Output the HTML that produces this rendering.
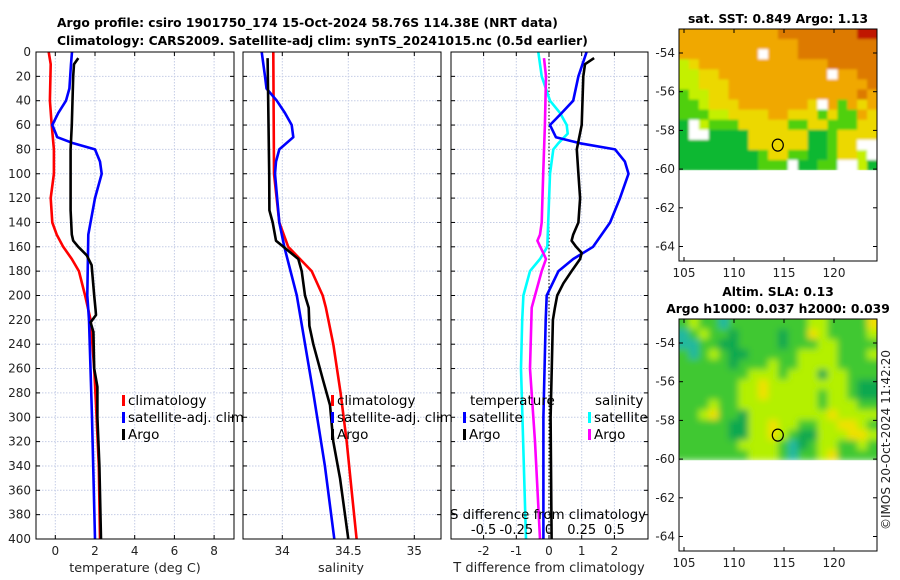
<!DOCTYPE html>
<html><head><meta charset="utf-8"><style>
html,body{margin:0;padding:0;background:#fff;}
svg{display:block;font-family:"DejaVu Sans","Liberation Sans",sans-serif;}
</style></head><body>
<svg id="fig" width="900" height="580" viewBox="0 0 900 580" xmlns="http://www.w3.org/2000/svg">
<defs>
<filter id="blur" x="-5%" y="-5%" width="110%" height="110%"><feGaussianBlur stdDeviation="3.5"/></filter>
<filter id="blur2" x="-5%" y="-5%" width="110%" height="110%"><feGaussianBlur stdDeviation="1.2"/></filter>
<clipPath id="clipSla"><rect x="679" y="319" width="198" height="141.3"/></clipPath>
<clipPath id="clipSst"><rect x="679" y="29" width="198" height="141.3"/></clipPath>
</defs>
<g font-weight="bold" font-size="12.3" fill="#000">
<text x="57" y="27">Argo profile: csiro 1901750_174 15-Oct-2024 58.76S 114.38E (NRT data)</text>
<text x="57" y="45">Climatology: CARS2009. Satellite-adj clim: synTS_20241015.nc (0.5d earlier)</text>
<text x="778" y="23" text-anchor="middle">sat. SST: 0.849 Argo: 1.13</text>
<text x="778" y="296" text-anchor="middle">Altim. SLA: 0.13</text>
<text x="778" y="313" text-anchor="middle">Argo h1000: 0.037 h2000: 0.039</text>
</g>
<text font-size="12" fill="#222" transform="translate(890,440) rotate(-90)" text-anchor="middle">©IMOS 20-Oct-2024 11:42:20</text>
<g id="layer"></g>
</svg>
<script>
// ---- depth-profile data ----
const depthTClim=[0,10,40,60,80,100,120,140,150,160,170,180,200,220,260,300,340,400];
const tClim=[-0.33,-0.23,-0.27,-0.18,-0.07,-0.07,-0.23,-0.15,0.07,0.4,0.83,1.19,1.5,1.78,1.96,2.08,2.19,2.25];
const depthTArgo=[5,10,20,60,80,130,150,155,160,167,175,200,212,216,222,230,260,275,300,340,400];
const tArgo=[1.16,0.94,0.9,0.83,0.77,0.77,0.83,0.9,1.16,1.58,1.83,1.96,2.03,2.05,1.78,1.92,1.96,2.12,2.12,2.22,2.3];
const depthTSat=[0,10,30,40,50,60,70,75,80,90,100,120,150,200,220,300,400];
const tSat=[0.84,0.79,0.71,0.54,0.15,-0.15,0.1,0.91,2.0,2.25,2.34,2.0,1.66,1.61,1.7,1.85,2.0];
const depthSClim=[0,100,140,160,170,180,200,210,240,280,320,360,400];
const sClim=[33.932,33.937,33.977,34.045,34.134,34.223,34.306,34.33,34.386,34.442,34.488,34.525,34.563];
const depthSArgo=[5,100,130,140,155,160,170,180,200,210,225,240,270,290,320,350,380,400];
const sArgo=[33.889,33.901,33.902,33.927,33.952,34.008,34.121,34.147,34.172,34.2,34.205,34.235,34.31,34.361,34.386,34.437,34.475,34.5];
const depthSSat=[0,20,30,40,50,60,70,80,90,100,140,160,200,280,340,400];
const sSat=[33.844,33.869,33.88,33.958,34.02,34.071,34.083,33.977,33.952,33.945,33.977,34.015,34.11,34.235,34.323,34.394];
const depthDTSat=[0,20,40,50,60,70,75,80,90,100,120,140,160,170,180,200,220,300,400];
const dTSat=[1.15,0.9,0.74,0.39,0.03,0.21,0.95,2.02,2.32,2.43,2.17,1.87,1.35,0.74,0.29,-0.07,-0.1,-0.17,-0.17];
const depthDTArgo=[5,10,20,60,80,100,120,140,150,155,160,165,170,180,190,200,210,220,300,400];
const dTArgo=[1.38,1.1,1.05,1.0,0.85,0.9,0.95,0.9,0.74,0.69,0.83,1.0,0.95,0.69,0.44,0.25,0.18,0.12,0.05,0.08];
const depthDSSat=[0,20,40,50,60,67,75,80,100,160,170,180,200,220,260,400];
const dSSat=[-0.082,-0.056,0.008,0.084,0.135,0.143,0.071,0.033,0.008,-0.013,-0.069,-0.145,-0.196,-0.205,-0.214,-0.176];
const depthDSArgo=[5,20,60,100,140,150,155,165,170,180,200,210,260,320,400];
const dSArgo=[-0.038,-0.023,-0.031,-0.044,-0.056,-0.069,-0.089,-0.044,-0.023,-0.056,-0.107,-0.132,-0.145,-0.107,-0.069];
const depthTicks=[0,20,40,60,80,100,120,140,160,180,200,220,240,260,280,300,320,340,360,380,400];
const tTicks=[0,2,4,6,8];
const sTicks=[34,34.5,35];
const sTickLabels=["34","34.5","35"];
const dTTicks=[-2,-1,0,1,2];
const dSTicks=[-0.5,-0.25,0,0.25,0.5];
const dSTickLabels=["-0.5","-0.25","0","0.25","0.5"];
const latTicks=[-54,-56,-58,-60,-62,-64];
const lonTicks=[105,110,115,120];
// map grids (colour class per cell), rows north->south
const sstGrid=["ooooooooooOOOOOOOORR","ooooooooooooOOOOOOOO","ooooooooWoooOOOOOOOO","yYoooooooooooooOOOOO","yyYYoooooooooooWooOO","yyYYYooooooooooooooO","GyyYYoooooooooooooOo","GGyYYYoooooooYWoGoYo","GGGyyYYYYooYYYGYGGoY","DWyGGGYYYYYGGYYGGGYY","DWWDDDDYYYYYYDDGYYYY","DDDDDDDYYYYYYDDGYYWW","DDDDDDDDGYYGGDDGYYyW","DDDDDDDDGGGWDDGGWWyD"];
const slaGrid=["GyGGTGGGGGGGGyyGGGGY","TGyGGDGGGGDGGYyGGGGy","TTGGDDGGGGDGGGyyGGGG","GTGyGDDGGGGGyyyyGGGy","GGGGGDGGGyGGyyyyGGGG","GGGGGGGyyyGyyyDyyGGG","GGGGGGyyYyyyyyyyyGDD","GGGGGGyyYyyyyyGyyGDD","GGGyGGyyyyyyyyGyyyGG","GGyYGGDyyyyyyyyYyyyy","GGGGGDDyyYyyGGyyYYyG","GGGGGDDyyYyGDDyyyYYy","GGGGGGyyyyGTDGyyGGyG","GGGGGGGyyyGTGGyYGGGG"];
const argoLon=114.38, argoLat=-58.76;

const NS="http://www.w3.org/2000/svg";
const L=document.getElementById('layer');
function mk(tag,a,parent){const e=document.createElementNS(NS,tag);for(const k in a)e.setAttribute(k,a[k]);(parent||L).appendChild(e);return e;}
const yD=d=>52+d*1.2175;
const Y0=52,Y1=539;
const xT=v=>55.3+v*19.85;
const xS=v=>282.3+(v-34)*132;
const xDT=v=>549+v*32.7;
const xDS=v=>549+v*130.8;

function frame(x0,x1,name,xticks,xfun,labels,ticklabY){
  for(const d of depthTicks){
    const g=mk('line',{x1:x0,x2:x1,y1:yD(d),y2:yD(d),stroke:'#c5cde6','stroke-width':1,'stroke-dasharray':'1.5,1.5'});
    
    
    mk('line',{x1:x0,x2:x0+4,y1:yD(d),y2:yD(d),stroke:'#000'});
    mk('line',{x1:x1-4,x2:x1,y1:yD(d),y2:yD(d),stroke:'#000'});
  }
  xticks.forEach((v,i)=>{
    const x=xfun(v);
    const g=mk('line',{x1:x,x2:x,y1:Y0,y2:Y1,stroke:'#c5cde6','stroke-width':1,'stroke-dasharray':'1.5,1.5'});
    
    
    mk('line',{x1:x,x2:x,y1:Y1-4,y2:Y1,stroke:'#000'});
    mk('line',{x1:x,x2:x,y1:Y0,y2:Y0+4,stroke:'#000'});
    if(labels){
      const t=mk('text',{x:x,y:ticklabY,'font-size':12,'text-anchor':'middle',fill:'#222'});
      t.textContent=labels[i];
      
      
    }
  });
}
function box(x0,x1,name){
  const r=mk('rect',{x:x0,y:Y0,width:x1-x0,height:Y1-Y0,fill:'none',stroke:'#000','stroke-width':1});
  
  
}
function line(depths,vals,xf,color,name){
  const pts=depths.map((d,i)=>xf(vals[i]).toFixed(1)+','+yD(d).toFixed(1)).join(' ');
  const p=mk('polyline',{points:pts,fill:'none',stroke:color,'stroke-width':2.6,'stroke-linejoin':'round'});
  
  
}
function txt(x,y,s,name,opts){
  const t=mk('text',Object.assign({x:x,y:y,'font-size':12,fill:'#222'},opts||{}));
  t.textContent=s;
  
  
  return t;
}
function legend(x,y,items,prefix){
  items.forEach((it,i)=>{
    const r=mk('rect',{x:x,y:y+i*17-10,width:3,height:11,fill:it[1]});
    
    
    txt(x+6,y+i*17,it[0],prefix+'-legend-entry',{'font-size':13.5,fill:'#000'});
  });
}

// Panel 1: temperature
frame(36,234,'temp-panel',tTicks,xT,tTicks.map(String),555);
depthTicks.forEach(d=>txt(31,yD(d)+4,String(d),'depth-tick-label',{'text-anchor':'end'}));
line(depthTClim,tClim,xT,'#ff0000','temp-climatology-line');
line(depthTSat,tSat,xT,'#0000ff','temp-satellite-line');
line(depthTArgo,tArgo,xT,'#000000','temp-argo-line');
box(36,234,'temp-panel-frame');
txt(135,572,'temperature (deg C)','temp-x-axis-title',{'text-anchor':'middle','font-size':12.8});
legend(122,405,[['climatology','#ff0000'],['satellite-adj. clim','#0000ff'],['Argo','#000000']],'temp');

// Panel 2: salinity
frame(243,441,'sal-panel',sTicks,xS,sTickLabels,555);
line(depthSClim,sClim,xS,'#ff0000','sal-climatology-line');
line(depthSSat,sSat,xS,'#0000ff','sal-satellite-line');
line(depthSArgo,sArgo,xS,'#000000','sal-argo-line');
box(243,441,'sal-panel-frame');
txt(341,572,'salinity','sal-x-axis-title',{'text-anchor':'middle','font-size':12.8});
legend(331,405,[['climatology','#ff0000'],['satellite-adj. clim','#0000ff'],['Argo','#000000']],'sal');

// Panel 3: differences
frame(451,648,'diff-panel',dTTicks,xDT,dTTicks.map(String),555);
{const z=mk('line',{x1:xDT(0),x2:xDT(0),y1:Y0,y2:Y1,stroke:'#000','stroke-dasharray':'1.5,2','stroke-width':1});
}
line(depthDSSat,dSSat,xDS,'#00ffff','sal-diff-satellite-line');
line(depthDSArgo,dSArgo,xDS,'#ff00ff','sal-diff-argo-line');
line(depthDTSat,dTSat,xDT,'#0000ff','temp-diff-satellite-line');
line(depthDTArgo,dTArgo,xDT,'#000000','temp-diff-argo-line');
box(451,648,'diff-panel-frame');
dSTicks.forEach((v,i)=>txt(xDS(v),534,dSTickLabels[i],'s-diff-tick-label',{'text-anchor':'middle','fill':'#000','font-size':13}));
txt(548,519,'S difference from climatology','s-diff-axis-title',{'text-anchor':'middle','font-size':13.3,fill:'#000'});
txt(549,572,'T difference from climatology','t-diff-axis-title',{'text-anchor':'middle','font-size':13});
txt(470,405,'temperature','diff-legend-temp-header',{'font-size':13.5,fill:'#000'});
txt(595,405,'salinity','diff-legend-sal-header',{'font-size':13.5,fill:'#000'});
legend(463,422,[['satellite','#0000ff'],['Argo','#000000']],'diff-temp');
legend(588,422,[['satellite','#00ffff'],['Argo','#ff00ff']],'diff-sal');

// Maps
const sstCol={R:'#c01800',O:'#dd7a00',o:'#f0a800',Y:'#ecd800',y:'#c4f000',G:'#50d010',D:'#10b830',W:'#ffffff'};
const slaCol={G:'#40c830',D:'#10a850',T:'#20b8a0',y:'#b4f000',Y:'#f0e000'};
function map(top,grid,cols,name,clip,filt){
  const x0=679,x1=877,y1=top+232;
  const lonX=v=>684+(v-105)*10;
  const latY=v=>top+24+(-54-v)*19.35;
  const dataBottom=latY(-60.05);
  const cw=(x1-x0)/20, ch=(dataBottom-top)/grid.length;
  const cg=mk('g',{'clip-path':'url(#'+clip+')'});
  const g=mk('g',{filter:'url(#'+filt+')'},cg);
  grid.forEach((row,r)=>{for(let c=0;c<row.length;c++){
    const cell=mk('rect',{x:x0+c*cw-(c==0?6:0),y:top+r*ch-(r==0?6:0),width:cw+0.6+(c==0||c==19?6:0),height:ch+0.6+(r==0?6:0),fill:cols[row[c]]},g);
    
    
  }});
  latTicks.forEach(v=>{
    mk('line',{x1:x0,x2:x0+4,y1:latY(v),y2:latY(v),stroke:'#000'});
    mk('line',{x1:x1-4,x2:x1,y1:latY(v),y2:latY(v),stroke:'#000'});
    txt(x0-4,latY(v)+4,String(v),name+'-lat-tick-label',{'text-anchor':'end'});
  });
  lonTicks.forEach(v=>{
    mk('line',{x1:lonX(v),x2:lonX(v),y1:y1-4,y2:y1,stroke:'#000'});
    mk('line',{x1:lonX(v),x2:lonX(v),y1:top,y2:top+4,stroke:'#000'});
    txt(lonX(v),y1+16,String(v),name+'-lon-tick-label',{'text-anchor':'middle'});
  });
  const c=mk('ellipse',{cx:lonX(argoLon),cy:latY(argoLat),rx:5.5,ry:6,fill:'none',stroke:'#000','stroke-width':1.2});
  
  
  const f=mk('rect',{x:x0,y:top,width:x1-x0,height:y1-top,fill:'none',stroke:'#000'});
  
  
}
map(29,sstGrid,sstCol,'sst-map','clipSst','blur2');
map(319,slaGrid,slaCol,'sla-map','clipSla','blur');
</script>
</body></html>
